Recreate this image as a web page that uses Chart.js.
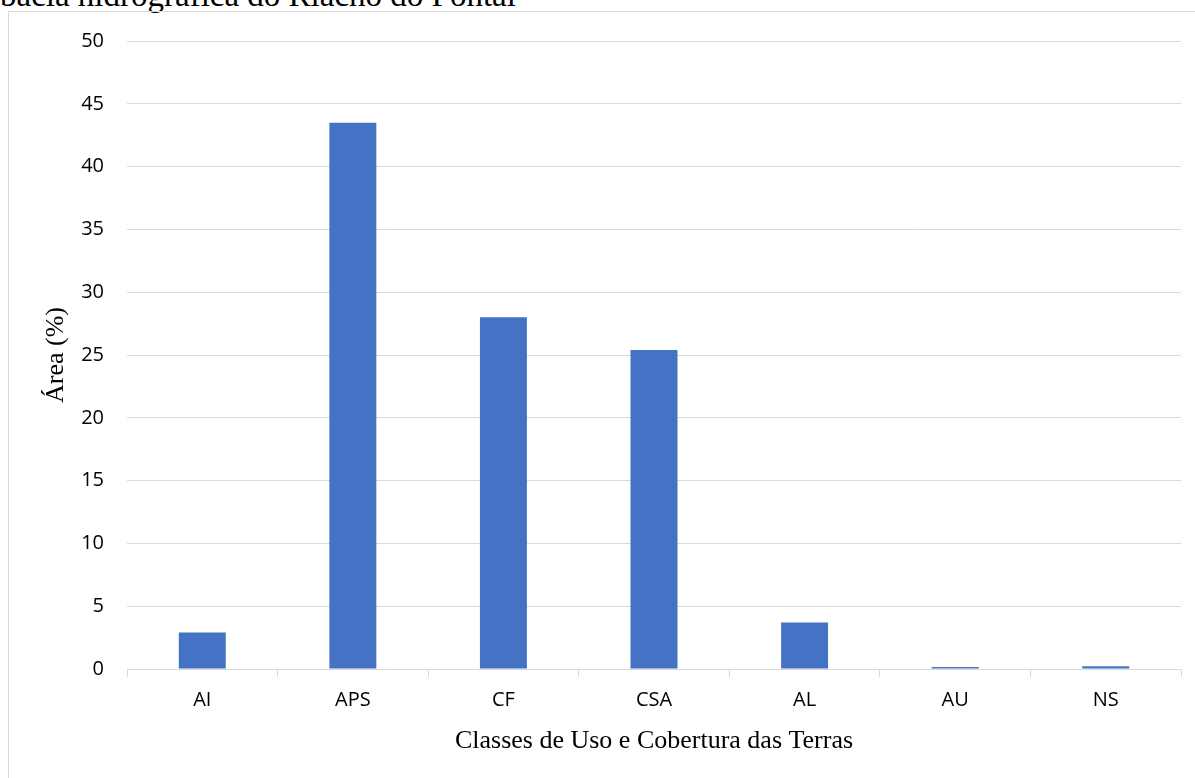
<!DOCTYPE html>
<html>
<head>
<meta charset="utf-8">
<script src="https://cdn.jsdelivr.net/npm/chart.js@4"></script>
<style>
  html, body { margin: 0; padding: 0; background: #fff; overflow: hidden; }
  #wrap { position: relative; width: 1195px; height: 778px; }
  #caption {
    position: absolute; left: 0; top: -21px;
    font-family: "Liberation Serif", serif; font-size: 33px; line-height: 33px;
    color: #000; white-space: nowrap;
  }
  #frame {
    position: absolute; left: 8px; top: 11px; width: 1200px; height: 800px;
    border: 1px solid #d9d9d9; box-sizing: border-box;
  }
  #myCanvas { position: absolute; left: 0; top: 0; }
</style>
</head>
<body>
<div id="wrap">
  <div id="caption">bacia hidrográfica do Riacho do Pontal</div>
  <div id="frame"></div>
  <canvas id="myCanvas" width="1195" height="778"></canvas>
</div>
<script>
const categories = ['AI', 'APS', 'CF', 'CSA', 'AL', 'AU', 'NS'];
const areaValues = [2.9, 43.5, 28.0, 25.4, 3.7, 0.15, 0.22];
const yTicks = [0, 5, 10, 15, 20, 25, 30, 35, 40, 45, 50];

const gridColor = '#d9d9d9';
const tickFont = { family: '"Open Sans", sans-serif', size: 20 };
const titleFont = { family: '"Liberation Serif", serif', size: 26 };

const dataConfig = {
    labels: categories,
    datasets: [{
        label: 'Área (%)',
        backgroundColor: '#4472c4',
        borderColor: '#4472c4',
        data: areaValues,
        barPercentage: 0.312,
        categoryPercentage: 1.0
    }]
};

const config = {
    type: 'bar',
    data: dataConfig,
    options: {
        responsive: false,
        animation: false,
        layout: { padding: { top: 41, right: 14, bottom: 0, left: 0 } },
        plugins: {
            legend: { display: false },
            tooltip: { enabled: false }
        },
        scales: {
            x: {
                afterFit: s => { s.height = 109; },
                grid: {
                    offset: true,
                    drawOnChartArea: false,
                    drawTicks: true,
                    tickLength: 8,
                    color: gridColor,
                    lineWidth: 1
                },
                border: { color: gridColor, width: 1 },
                ticks: { color: '#000', font: tickFont, padding: 11, maxRotation: 0 },
                title: {
                    display: true,
                    text: 'Classes de Uso e Cobertura das Terras',
                    color: '#000',
                    font: titleFont,
                    padding: { top: 0, bottom: 21 }
                }
            },
            y: {
                min: 0,
                max: 50,
                afterFit: s => { s.width = 127; },
                afterBuildTicks: s => { s.ticks = yTicks.map(v => ({ value: v })); },
                grid: { color: gridColor, lineWidth: 1, drawTicks: false },
                border: { display: false },
                ticks: { color: '#000', font: tickFont, padding: 23 },
                title: {
                    display: true,
                    text: 'Área (%)',
                    color: '#000',
                    font: titleFont,
                    padding: { top: 41, bottom: 0 }
                }
            }
        }
    }
};

const myChart = new Chart(document.getElementById('myCanvas'), config);
</script>
</body>
</html>
